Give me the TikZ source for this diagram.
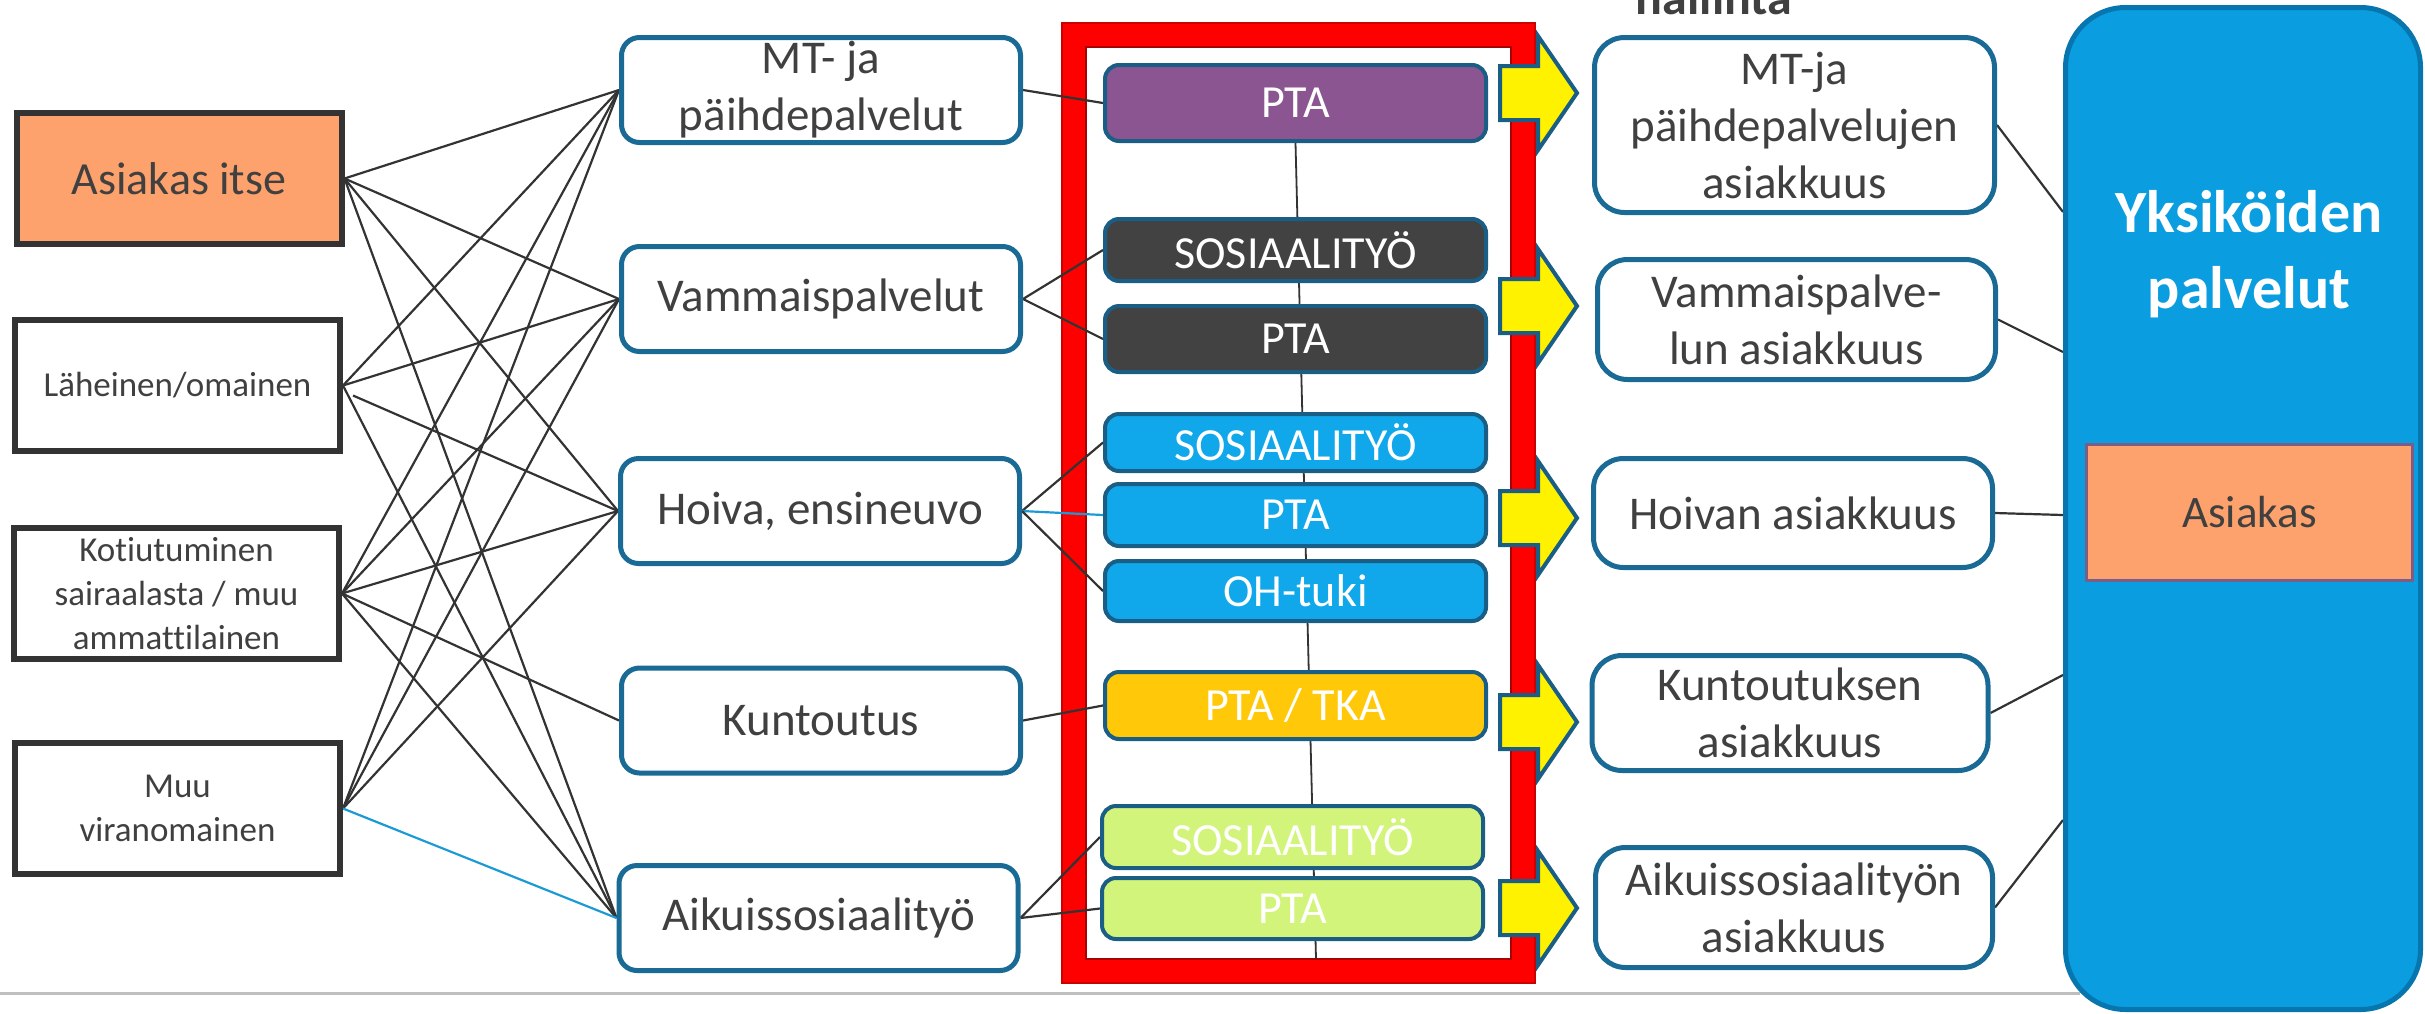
\documentclass[tikz,border=0pt]{standalone}
\usepackage{fontspec}
\setmainfont{Carlito}[Ligatures=NoCommon]
\usetikzlibrary{calc}
\definecolor{txt}{HTML}{404040}
\definecolor{edgegray}{HTML}{333333}
\definecolor{tealb}{HTML}{1A6A96}
\definecolor{orangef}{HTML}{FDA26D}
\definecolor{purp}{HTML}{8B5592}
\definecolor{darkb}{HTML}{424242}
\definecolor{skyb}{HTML}{10A8EA}
\definecolor{goldb}{HTML}{FFC90A}
\definecolor{limeb}{HTML}{D3F47A}
\definecolor{bigblue}{HTML}{0A9DDF}
\definecolor{bigedge}{HTML}{0876AE}
\definecolor{linkblue}{HTML}{1C9AD6}
\definecolor{arrowedge}{HTML}{1B5E85}
\definecolor{framered}{HTML}{FF0000}
\definecolor{framedark}{HTML}{A80000}
\definecolor{asedge}{HTML}{7A5E88}
\newcommand\fsz[2]{\fontsize{#1}{#2}\selectfont}
\pgfdeclarelayer{back}
\pgfdeclarelayer{mid}
\pgfsetlayers{back,mid,main}
\begin{document}
\begin{tikzpicture}[x=1pt,y=-1pt,
  srcbox/.style={draw=edgegray, line width=6pt, fill=white, text=txt, align=center,
    inner sep=0pt, minimum width=325pt, minimum height=131pt, font=\fsz{35}{44}},
  midbox/.style={draw=tealb, line width=5pt, rounded corners=18pt, fill=white, text=txt,
    align=center, inner sep=0pt, minimum width=399pt, minimum height=105pt, font=\fsz{47}{57}},
  inbox/.style={draw=arrowedge, line width=4pt, rounded corners=14pt, text=white,
    align=center, inner sep=0pt, minimum width=381pt, font=\fsz{46}{54}},
  outbox/.style={draw=tealb, line width=5pt, rounded corners=30pt, fill=white, text=txt,
    align=center, inner sep=0pt, font=\fsz{47}{57}},
  link/.style={draw=edgegray, line width=2.2pt},
  thinlink/.style={draw=edgegray, line width=1.8pt},
  bluelink/.style={draw=linkblue, line width=2.2pt},
  yarrow/.style={draw=arrowedge, fill=yellow, line width=4pt, line join=miter}
]
\useasboundingbox (0,0) rectangle (2425,1013);

% separator line and frame (background)
\begin{pgfonlayer}{back}
  \draw[black!25, line width=3pt] (0,993) -- (2080,993);
  \draw[framered, line width=23pt] (1073.5,34.5) rectangle (1523.5,971.5);
  \draw[framedark, line width=2.5pt] (1086,47) rectangle (1511,959);
  \draw[framedark!60!framered, line width=1.5pt] (1062,23) rectangle (1535,983);
\end{pgfonlayer}

% left sources
\node[srcbox, fill=orangef, font=\fsz{46}{56}] (A) at (179,178.5) {Asiakas itse};
\node[srcbox] (L) at (177.5,385.5) {Läheinen/omainen};
\node[srcbox] (K) at (176.5,593.5) {Kotiutuminen\\sairaalasta / muu\\ammattilainen};
\node[srcbox] (M) at (177.5,808.5) {Muu\\viranomainen};

% middle services
\node[midbox] (MT) at (821,90) {MT- ja\\päihdepalvelut};
\node[midbox] (V) at (821,299) {Vammaispalvelut};
\node[midbox] (H) at (820,511) {Hoiva, ensineuvo};
\node[midbox] (Ku) at (821,720.5) {Kuntoutus};
\node[midbox] (Ai) at (818.5,918) {Aikuissosiaalityö};

% inner boxes in red frame
\node[inbox, fill=purp, minimum height=76pt] (P1) at (1295.5,103) {PTA};
\node[inbox, fill=darkb, minimum height=62pt] (S2) at (1295.5,250) {SOSIAALITYÖ};
\node[inbox, fill=darkb, minimum height=66pt] (P2) at (1295.5,339) {PTA};
\node[inbox, fill=skyb, minimum height=57pt] (S3) at (1295.5,442.5) {SOSIAALITYÖ};
\node[inbox, fill=skyb, minimum height=62pt] (P3) at (1295.5,515) {PTA};
\node[inbox, fill=skyb, minimum height=60pt] (OH) at (1295.5,591) {OH-tuki};
\node[inbox, fill=goldb, minimum height=67pt] (TKA) at (1295.5,705.5) {PTA / TKA};
\node[inbox, fill=limeb, minimum height=62pt] (S5) at (1292.5,837) {SOSIAALITYÖ};
\node[inbox, fill=limeb, minimum height=61pt] (P5) at (1292.5,908.5) {PTA};
\coordinate (vb) at (1316,959);

% yellow arrows
\foreach \cy in {93,306,518,722,908}{
  \draw[yarrow] (1500,\cy-27) -- (1538,\cy-27) -- (1538,\cy-57) -- (1577,\cy)
     -- (1538,\cy+57) -- (1538,\cy+27) -- (1500,\cy+27) -- cycle;
}

% right boxes
\node[outbox, minimum width=400pt, minimum height=175pt] (R1) at (1794.5,125) {MT-ja\\päihdepalvelujen\\asiakkuus};
\node[outbox, minimum width=398pt, minimum height=120pt] (R2) at (1796.5,319.5) {Vammaispalve-\\lun asiakkuus};
\node[outbox, minimum width=399pt, minimum height=109pt] (R3) at (1793,513) {Hoivan asiakkuus};
\node[outbox, minimum width=396pt, minimum height=115pt] (R4) at (1790,713) {Kuntoutuksen\\asiakkuus};
\node[outbox, minimum width=397pt, minimum height=120pt] (R5) at (1794,907.5) {Aikuissosiaalityön\\asiakkuus};

% big blue box
\node[draw=bigedge, fill=bigblue, line width=5pt, rounded corners=60pt, inner sep=0pt,
  minimum width=355pt, minimum height=1002pt] (big) at (2243,508.5) {};
\node[text=white, font=\bfseries\fsz{60}{76}, align=center] (Yk) at (2249,254) {Yksiköiden\\palvelut};
\node[draw=asedge, fill=orangef, line width=3pt, minimum width=326pt, minimum height=136pt,
  inner sep=0pt, text=txt, font=\fsz{45}{54}] (As) at (2249.5,512.5) {Asiakas};
\coordinate (b1) at (2063,212);
\coordinate (b2) at (2063,352);
\coordinate (b3) at (2063,515);
\coordinate (b4) at (2063,675);
\coordinate (b5) at (2063,820);

% cut-off heading
\node[text=txt, font=\bfseries\fsz{50}{60}, anchor=base] (hal) at (1714,14) {hallinta};

% connectors
\begin{pgfonlayer}{mid}
  \foreach \s in {A,L,K,M}{
    \draw[link] (\s.east) -- (MT.west);
    \draw[link] (\s.east) -- (V.west);
  }
  \draw[link] (A.east) -- (H.west);
  \draw[link] ([shift={(10,10)}]L.east) -- (H.west);
  \draw[link] (K.east) -- (H.west);
  \draw[link] (M.east) -- (H.west);
  \draw[link] (K.east) -- (Ku.west);
  \draw[link] (A.east) -- (Ai.west);
  \draw[link] (L.east) -- (Ai.west);
  \draw[link] (K.east) -- (Ai.west);
  \draw[bluelink] (M.east) -- (Ai.west);

  \draw[link] (MT.east) -- (P1.west);
  \draw[link] (V.east) -- (S2.west);
  \draw[link] (V.east) -- (P2.west);
  \draw[link] (H.east) -- (S3.west);
  \draw[bluelink] (H.east) -- (P3.west);
  \draw[link] (H.east) -- (OH.west);
  \draw[link] (Ku.east) -- (TKA.west);
  \draw[link] (Ai.east) -- (S5.west);
  \draw[link] (Ai.east) -- (P5.west);

  \draw[thinlink] (P1.south) -- (vb);

  \draw[link] (R1.east) -- (b1);
  \draw[link] (R2.east) -- (b2);
  \draw[link] (R3.east) -- (b3);
  \draw[link] (R4.east) -- (b4);
  \draw[link] (R5.east) -- (b5);
\end{pgfonlayer}
\end{tikzpicture}
\end{document}
